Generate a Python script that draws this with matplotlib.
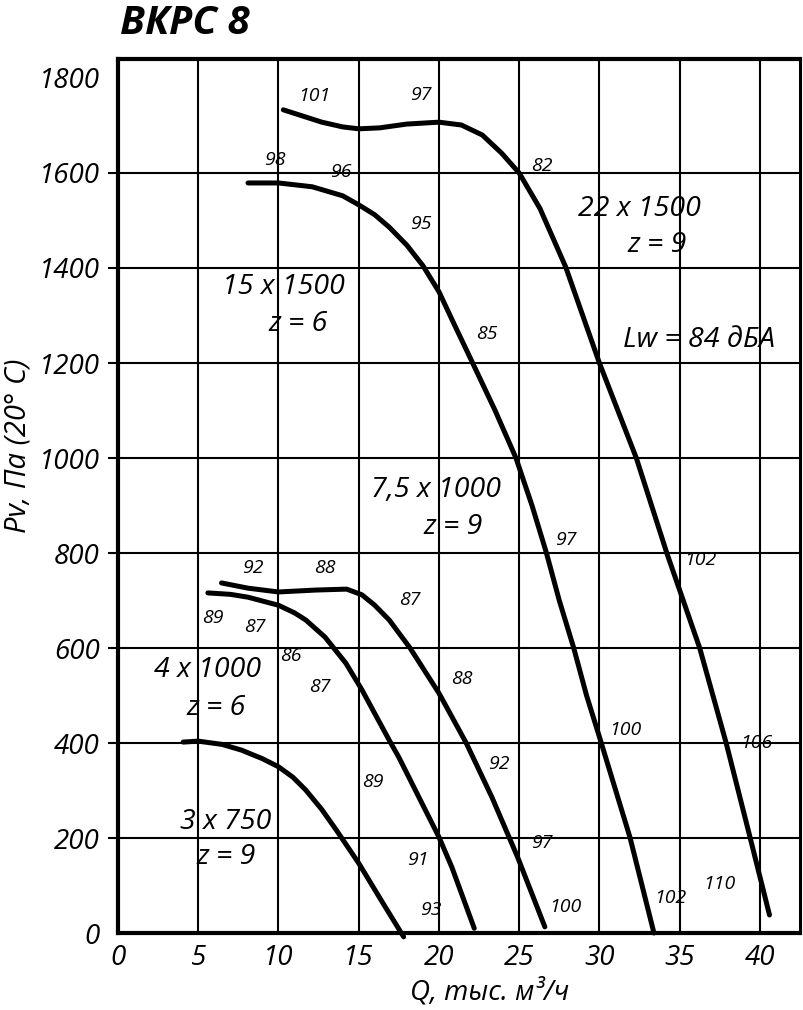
import matplotlib
matplotlib.use("Agg")
import matplotlib.pyplot as plt

# curves: Q (thousand m3/h) vs Pv (Pa)
q_22 = [10.3, 11.5, 12.7, 14.0, 15.0, 16.3, 18.0, 20.0, 21.4, 22.7, 23.9, 25.0, 26.3, 27.9,
        30.0, 32.3, 34.2, 36.25, 37.9, 39.4, 40.6]
p_22 = [1733, 1720, 1707, 1697, 1693, 1695, 1703, 1707, 1701, 1680, 1642, 1600, 1525, 1402,
        1200, 1000, 800, 600, 400, 200, 38]

q_15 = [8.1, 10.0, 12.1, 14.0, 15.0, 16.0, 16.9, 18.0, 19.0, 20.0, 21.0, 22.1, 23.5, 24.8,
        25.8, 26.7, 27.5, 28.4, 29.2, 30.0, 31.9, 33.4]
p_15 = [1579, 1579, 1571, 1552, 1533, 1512, 1486, 1448, 1405, 1350, 1278, 1200, 1100, 1000,
        900, 800, 700, 600, 500, 413, 202, 0]

q_7 = [6.45, 8.1, 10.0, 12.3, 14.25, 15.2, 16.0, 16.9, 18.2, 20.0, 21.7, 23.3, 24.9, 26.6]
p_7 = [737, 726, 718, 722, 724, 712, 690, 659, 600, 505, 400, 286, 160, 13]

q_4 = [5.6, 7.0, 8.1, 10.0, 11.0, 11.7, 12.9, 14.2, 15.2, 16.9, 17.5, 20.0, 20.8, 22.2]
p_4 = [716, 713, 707, 690, 674, 659, 623, 568, 512, 406, 370, 202, 139, 10]

q_3 = [4.06, 5.0, 6.5, 7.7, 9.0, 10.0, 10.9, 11.7, 12.7, 13.6, 15.0, 16.4, 17.8]
p_3 = [402, 404, 397, 385, 367, 350, 328, 301, 260, 217, 147, 69, -8]

curves = [(q_22, p_22), (q_15, p_15), (q_7, p_7), (q_4, p_4), (q_3, p_3)]

# noise level marks along the curves
lw_q = [12.2, 18.9, 26.4, 36.3, 39.8, 37.5,
        9.75, 13.9, 18.9, 23.0, 27.9, 31.6, 34.4,
        8.4, 12.9, 18.2, 21.4, 23.75, 26.4, 27.9,
        5.9, 8.5, 10.8, 12.6, 15.9, 18.7, 19.5]
lw_p = [1762, 1764, 1615, 785, 400, 103,
        1627, 1602, 1493, 1261, 827, 427, 74,
        768, 768, 701, 535, 356, 189, 55,
        663, 644, 583, 518, 318, 154, 48]
lw_txt = ['101', '97', '82', '102', '106', '110',
          '98', '96', '95', '85', '97', '100', '102',
          '92', '88', '87', '88', '92', '97', '100',
          '89', '87', '86', '87', '89', '91', '93']

# fan size labels
name_q = [32.5, 33.6, 10.3, 11.25, 19.8, 20.9, 5.6, 6.1, 6.7, 6.75]
name_p = [1524, 1448, 1360, 1282, 933, 855, 554, 474, 234, 160]
name_txt = ['22 x 1500', 'z = 9', '15 x 1500', 'z = 6', '7,5 x 1000', 'z = 9',
            '4 x 1000', 'z = 6', '3 x 750', 'z = 9']

x_ticks = [0, 5, 10, 15, 20, 25, 30, 35, 40]
y_ticks = [0, 200, 400, 600, 800, 1000, 1200, 1400, 1600, 1800]

FONT = 'Open Sans'

fig = plt.figure(figsize=(8.04, 10.10), dpi=100)
ax = fig.add_axes([0.1468, 0.0762, 0.8482, 0.8654])
ax.set_xlim(0, 42.5)
ax.set_ylim(0, 1840)

for x in x_ticks[1:]:
    ax.axvline(x, color='black', lw=1.5, zorder=1)
for y in y_ticks[1:-1]:
    ax.axhline(y, color='black', lw=1.5, zorder=1)

for q, p in curves:
    ax.plot(q, p, color='black', lw=3.6, solid_capstyle='round',
            solid_joinstyle='round', zorder=3, clip_on=False)

for q, p, t in zip(lw_q, lw_p, lw_txt):
    ax.text(q, p, t, ha='center', va='center', fontsize=14, family=FONT,
            style='italic', zorder=4)

for q, p, t in zip(name_q, name_p, name_txt):
    ax.text(q, p, t, ha='center', va='center', fontsize=20.5, family=FONT,
            style='italic', zorder=4)

ax.text(36.2, 1248, 'Lw = 84 дБА', ha='center', va='center', fontsize=20.5,
        family=FONT, style='italic', zorder=4)

ax.set_xticks(x_ticks)
ax.set_xticklabels([str(v) for v in x_ticks], family=FONT, style='italic', fontsize=20)
ax.set_yticks(y_ticks)
ax.set_yticklabels([str(v) for v in y_ticks], family=FONT, style='italic', fontsize=20)
ax.tick_params(axis='x', length=0, pad=8)
ax.tick_params(axis='y', length=7, width=1.5, pad=6)
for v, t in zip(y_ticks, ax.yaxis.get_major_ticks()):
    if v in (0, 1800):
        t.tick1line.set_visible(False)

for s in ax.spines.values():
    s.set_linewidth(3)
ax.spines['right'].set_linewidth(2.2)

ax.set_xlabel('Q, тыс. м³/ч', family=FONT, style='italic', fontsize=20)
ax.xaxis.set_label_coords(0.545, -0.052)
ax.set_ylabel('Pv, Па (20° С)', family=FONT, style='italic', fontsize=21)
ax.yaxis.set_label_coords(-0.125, 0.558)

fig.text(0.149, 0.977, 'ВКРС 8', ha='left', va='center', fontsize=29,
         family=FONT, style='italic', weight='bold')

fig.savefig('out.png', dpi=100)
